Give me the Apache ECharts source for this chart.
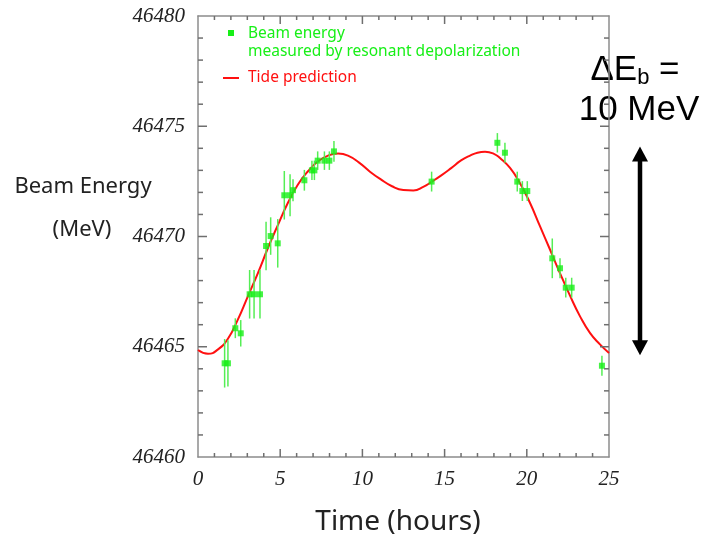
<!DOCTYPE html>
<html>
<head>
<meta charset="utf-8">
<script src="https://cdn.jsdelivr.net/npm/echarts@6/dist/echarts.min.js"></script>
<style>
  html, body { margin: 0; padding: 0; background: #ffffff; }
  #chart { width: 705px; height: 537px; }
</style>
</head>
<body>
<div id="chart"></div>
<script>
// Resonant-depolarization measurements: time (h), beam energy (MeV), error (MeV)
const measTime = [1.62, 1.82, 2.27, 2.60, 3.14, 3.41, 3.77, 4.14, 4.42, 4.85,
                  5.25, 5.60, 5.78, 6.47, 6.93, 7.08, 7.28, 7.69, 7.99, 8.27,
                  14.21, 18.21, 18.67, 19.42, 19.73, 20.03, 21.55, 22.02, 22.37, 22.73,
                  24.57];
const measEnergy = [46464.25, 46464.25, 46465.84, 46465.61, 46467.38, 46467.38, 46467.38, 46469.57, 46470.02, 46469.69,
                    46471.87, 46471.87, 46472.10, 46472.55, 46473.00, 46473.00, 46473.44, 46473.44, 46473.44, 46473.86,
                    46472.49, 46474.25, 46473.80, 46472.49, 46472.06, 46472.06, 46469.01, 46468.56, 46467.68, 46467.68,
                    46464.14];
const measError = [1.10, 1.05, 0.45, 0.60, 1.10, 1.10, 1.10, 1.10, 0.85, 1.10,
                   1.10, 0.95, 0.50, 0.47, 0.44, 0.44, 0.42, 0.42, 0.42, 0.47,
                   0.45, 0.44, 0.45, 0.45, 0.45, 0.45, 0.90, 0.45, 0.45, 0.45,
                   0.45];

// Tide model prediction
const tideTime = [0, 0.61, 1.22, 1.82, 2.43, 3.04, 3.65, 4.26, 4.87, 5.47,
                  6.08, 6.69, 7.30, 7.91, 8.52, 9.12, 9.8, 10.46, 11.1, 11.8,
                  12.49, 13.1, 13.7, 14.23, 14.8, 15.4, 16.0, 16.55, 17.0, 17.46,
                  18.0, 18.37, 18.98, 19.58, 20.19, 20.80, 21.41, 22.01, 22.62, 23.23,
                  23.84, 24.45, 25.0];
const tideEnergy = [46464.85, 46464.68, 46464.88, 46465.36, 46466.24, 46467.30, 46468.35, 46469.49, 46470.54, 46471.53,
                    46472.36, 46472.96, 46473.41, 46473.67, 46473.76, 46473.67, 46473.35, 46472.94, 46472.60, 46472.28,
                    46472.11, 46472.09, 46472.25, 46472.49, 46472.77, 46473.10, 46473.45, 46473.67, 46473.80, 46473.84,
                    46473.75, 46473.56, 46473.11, 46472.43, 46471.53, 46470.47, 46469.41, 46468.35, 46467.33, 46466.39,
                    46465.63, 46465.11, 46464.72];

// Axis ranges and labelled steps
const xRange = [0, 25];
const xStep = 5;
const yRange = [46460, 46480];
const yStep = 5;

// Tick positions drawn on all four sides of the frame (long ticks on labelled steps)
const xTicks = [1, 2, 3, 4, 5, 6, 7, 8, 9, 10, 11, 12, 13, 14, 15, 16, 17, 18, 19, 20, 21, 22, 23, 24];
const yTicks = [46461, 46462, 46463, 46464, 46465, 46466, 46467, 46468, 46469, 46470,
                46471, 46472, 46473, 46474, 46475, 46476, 46477, 46478, 46479];

// Span of the double arrow (MeV)
const arrowSpan = [46464.75, 46473.9];

const measData = measTime.map((t, i) => [t, measEnergy[i], measError[i]]);
const tideData = tideTime.map((t, i) => [t, tideEnergy[i]]);
const xTickData = xTicks.map(v => [v, yRange[0]]);
const yTickData = yTicks.map(v => [xRange[0], v]);

const AXIS_COLOR = '#8c8c8c';
const TICK_COLOR = '#6f6f6f';
const LABEL_FONT = { fontFamily: 'Liberation Serif', fontStyle: 'italic', fontSize: 21, color: '#222' };
const GREEN = '#17ef17';
const ERR_GREEN = '#55ee55';
const RED = '#ff1010';

function frameAxis(position, range, step, withLabels) {
  return {
    type: 'value',
    position: position,
    min: range[0],
    max: range[1],
    interval: step,
    axisLine: { show: true, onZero: false, lineStyle: { color: AXIS_COLOR, width: 1.5 } },
    axisTick: { show: false },
    axisLabel: withLabels
      ? Object.assign({ margin: position === 'bottom' ? 12 : 13, formatter: v => String(v) }, LABEL_FONT)
      : { show: false },
    splitLine: { show: false }
  };
}

// Inward ticks on the bottom and top edges
function renderXTick(params, api) {
  const v = api.value(0);
  const len = v % xStep === 0 ? 8 : 4;
  const b = api.coord([v, yRange[0]]);
  const t = api.coord([v, yRange[1]]);
  const style = { stroke: TICK_COLOR, lineWidth: 1.5 };
  return { type: 'group', children: [
    { type: 'line', shape: { x1: b[0], y1: b[1], x2: b[0], y2: b[1] - len }, style: style },
    { type: 'line', shape: { x1: t[0], y1: t[1], x2: t[0], y2: t[1] + len }, style: style }
  ] };
}

// Inward ticks on the left and right edges
function renderYTick(params, api) {
  const v = api.value(1);
  const len = v % yStep === 0 ? 9 : 5;
  const l = api.coord([xRange[0], v]);
  const r = api.coord([xRange[1], v]);
  const style = { stroke: TICK_COLOR, lineWidth: 1.5 };
  return { type: 'group', children: [
    { type: 'line', shape: { x1: l[0], y1: l[1], x2: l[0] + len, y2: l[1] }, style: style },
    { type: 'line', shape: { x1: r[0], y1: r[1], x2: r[0] - len, y2: r[1] }, style: style }
  ] };
}

const chart = echarts.init(document.getElementById('chart'), null, { renderer: 'canvas' });

chart.setOption({
  animation: false,
  backgroundColor: '#ffffff',
  grid: { left: 198, top: 16, right: 96, bottom: 80, containLabel: false },
  xAxis: [
    frameAxis('bottom', xRange, xStep, true),
    frameAxis('top', xRange, xStep, false)
  ],
  yAxis: [
    frameAxis('left', yRange, yStep, true),
    frameAxis('right', yRange, yStep, false)
  ],
  series: [
    { name: 'x ticks', type: 'custom', silent: true, data: xTickData, encode: { x: 0, y: 1 }, renderItem: renderXTick, z: 5 },
    { name: 'y ticks', type: 'custom', silent: true, data: yTickData, encode: { x: 0, y: 1 }, renderItem: renderYTick, z: 5 },
    {
      name: 'Tide prediction',
      type: 'line',
      data: tideData,
      smooth: 0.5,
      showSymbol: false,
      lineStyle: { color: RED, width: 2 },
      z: 2
    },
    {
      name: 'error bars',
      type: 'custom',
      data: measData,
      encode: { x: 0, y: 1 },
      renderItem: function (params, api) {
        const x = api.value(0), y = api.value(1), e = api.value(2);
        const top = api.coord([x, y + e]);
        const bot = api.coord([x, y - e]);
        return {
          type: 'line',
          shape: { x1: top[0], y1: top[1], x2: bot[0], y2: bot[1] },
          style: { stroke: ERR_GREEN, lineWidth: 1.5 }
        };
      },
      z: 3
    },
    {
      name: 'Beam energy',
      type: 'scatter',
      data: measData.map(d => [d[0], d[1]]),
      symbol: 'rect',
      symbolSize: 6,
      itemStyle: { color: GREEN },
      z: 4
    }
  ]
});

function drawAnnotations() {
  const ax = 640;
  const yTop = chart.convertToPixel({ yAxisIndex: 0 }, arrowSpan[1]) - 4;
  const yBot = chart.convertToPixel({ yAxisIndex: 0 }, arrowSpan[0]) + 3;
  const head = 15, half = 8;
  const legendFont = '15.5px "Noto Sans"';
  chart.setOption({
    graphic: [
      // legend
      { type: 'rect', shape: { x: 228, y: 30, width: 6, height: 6 }, style: { fill: GREEN } },
      { type: 'text', x: 248, y: 34, style: { text: 'Beam energy', fill: GREEN, font: legendFont, textVerticalAlign: 'middle' } },
      { type: 'text', x: 248, y: 52, style: { text: 'measured by resonant depolarization', fill: GREEN, font: legendFont, textVerticalAlign: 'middle' } },
      { type: 'line', shape: { x1: 223, y1: 78, x2: 239, y2: 78 }, style: { stroke: RED, lineWidth: 2 } },
      { type: 'text', x: 248, y: 78, style: { text: 'Tide prediction', fill: RED, font: legendFont, textVerticalAlign: 'middle' } },
      // axis titles
      { type: 'text', x: 83, y: 187, style: { text: 'Beam Energy', fill: '#222', font: '22px "Noto Sans"', textAlign: 'center', textVerticalAlign: 'middle' } },
      { type: 'text', x: 82, y: 230, style: { text: '(MeV)', fill: '#222', font: '22px "Noto Sans"', textAlign: 'center', textVerticalAlign: 'middle' } },
      { type: 'text', x: 398, y: 522, style: { text: 'Time (hours)', fill: '#222', font: '28px "Noto Sans"', textAlign: 'center', textVerticalAlign: 'middle' } },
      // ΔE_b annotation
      { type: 'text', x: 635, y: 70, style: {
          text: '{m|ΔE}{s|b}{m| =}',
          textAlign: 'center', textVerticalAlign: 'middle',
          rich: {
            m: { font: '35px "Liberation Sans"', fill: '#000' },
            s: { font: '22px "Liberation Sans"', fill: '#000', padding: [16, 0, 0, 0] }
          }
        } },
      { type: 'text', x: 639, y: 110, style: { text: '10 MeV', fill: '#000', font: '35px "Liberation Sans"', textAlign: 'center', textVerticalAlign: 'middle' } },
      // double-headed arrow
      { type: 'line', shape: { x1: ax, y1: yTop + head - 2, x2: ax, y2: yBot - head + 2 }, style: { stroke: '#000', lineWidth: 4.5 } },
      { type: 'polygon', shape: { points: [[ax, yTop], [ax - half, yTop + head], [ax + half, yTop + head]] }, style: { fill: '#000' } },
      { type: 'polygon', shape: { points: [[ax, yBot], [ax - half, yBot - head], [ax + half, yBot - head]] }, style: { fill: '#000' } }
    ]
  });
}
drawAnnotations();
</script>
</body>
</html>
